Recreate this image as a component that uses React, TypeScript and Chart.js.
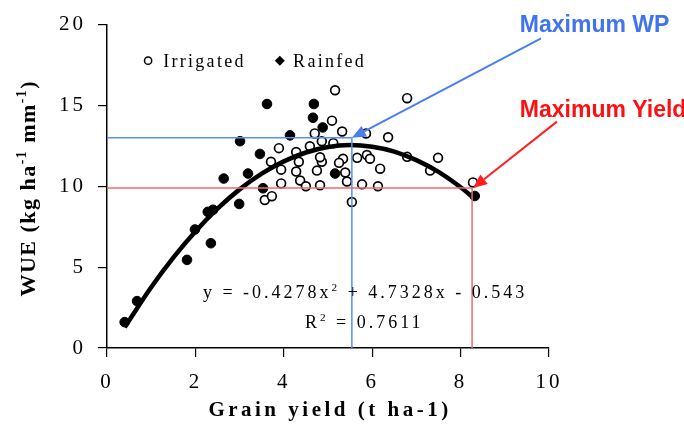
import React, { useEffect, useRef } from 'react';
import { Chart, registerables } from 'chart.js';

Chart.register(...registerables);

// ---- data ----
const irrigatedX = [5.16, 6.79, 5.09, 4.70, 5.32, 5.86, 6.36, 3.89, 4.59, 4.86, 5.12, 4.28, 3.71, 4.34, 4.86, 4.82, 5.34, 5.66, 5.88, 5.95, 6.79, 7.49, 3.94, 4.75, 5.25, 5.39, 6.18, 7.31, 4.28, 4.37, 3.94, 4.50, 4.82, 5.43, 5.77, 6.13, 3.57, 3.73, 5.54, 8.28];
const irrigatedY = [15.94, 15.45, 14.06, 13.27, 13.39, 13.27, 13.03, 12.36, 12.48, 12.79, 12.67, 12.12, 11.52, 11.52, 11.52, 11.80, 11.70, 11.76, 11.94, 11.70, 11.82, 11.76, 11.03, 10.97, 11.45, 10.85, 11.09, 10.97, 10.91, 10.36, 10.18, 10.00, 10.06, 10.30, 10.12, 10.00, 9.15, 9.39, 9.03, 10.24];

const rainfedX = [0.40, 0.68, 1.81, 2.35, 1.99, 2.28, 2.40, 2.64, 2.99, 3.01, 3.19, 3.46, 3.53, 3.62, 4.14, 4.66, 4.68, 4.88, 5.16, 8.32];
const rainfedY = [1.60, 2.90, 5.45, 6.48, 7.33, 8.42, 8.55, 10.48, 8.91, 12.79, 10.79, 12.00, 9.88, 15.09, 13.15, 14.24, 15.09, 13.64, 10.79, 9.40];

// trend line (as drawn, following y = -0.4278x^2 + 4.7328x - 0.543)
const trendX = [0.4, 1, 1.5, 2, 2.5, 3, 3.5, 4, 4.5, 5, 5.5, 6, 6.5, 7, 7.5, 8, 8.3];
const trendY = [1.28, 3.76, 5.59, 7.21, 8.62, 9.81, 10.78, 11.54, 12.09, 12.43, 12.55, 12.45, 12.15, 11.62, 10.89, 9.94, 9.27];

const xTicks = [0, 2, 4, 6, 8, 10];
const yTicks = [0, 5, 10, 15, 20];

const maxWP = { x: 5.54, y: 13.0 };
const maxYield = { x: 8.26, y: 9.9 };
const wpArrowTail = { x: 9.82, y: 19.15 };
const yieldArrowTail = { x: 10.18, y: 14.0 };

const legendLabels = ['Irrigated', 'Rainfed'];
const xTitle = 'Grain yield (t ha-1)';

type Run = { t: string; sup?: boolean };

const SERIF = "'Liberation Serif', 'Times New Roman', serif";
const SANS = "'Liberation Sans', Arial, sans-serif";

function drawRich(
  ctx: CanvasRenderingContext2D,
  runs: Run[],
  x: number,
  y: number,
  o: { size: number; bold?: boolean; family: string; ls: number; align?: 'left' | 'center'; color?: string }
) {
  ctx.save();
  (ctx as any).letterSpacing = o.ls + 'px';
  ctx.textBaseline = 'alphabetic';
  ctx.textAlign = 'left';
  ctx.fillStyle = o.color || '#000';
  const font = (s: number) => `${o.bold ? 'bold ' : ''}${s}px ${o.family}`;
  const widths = runs.map((r) => {
    ctx.font = font(r.sup ? o.size * 0.62 : o.size);
    return ctx.measureText(r.t).width;
  });
  const total = widths.reduce((a, b) => a + b, 0);
  let cx = o.align === 'center' ? x - total / 2 : x;
  runs.forEach((r, i) => {
    ctx.font = font(r.sup ? o.size * 0.62 : o.size);
    ctx.fillText(r.t, cx, r.sup ? y - o.size * 0.4 : y);
    cx += widths[i];
  });
  ctx.restore();
}

function arrow(ctx: CanvasRenderingContext2D, x1: number, y1: number, x2: number, y2: number, color: string) {
  const ang = Math.atan2(y2 - y1, x2 - x1);
  const len = 14;
  const hw = 6;
  const bx = x2 - len * Math.cos(ang);
  const by = y2 - len * Math.sin(ang);
  ctx.save();
  ctx.strokeStyle = color;
  ctx.fillStyle = color;
  ctx.lineWidth = 2;
  ctx.beginPath();
  ctx.moveTo(x1, y1);
  ctx.lineTo(bx, by);
  ctx.stroke();
  ctx.beginPath();
  ctx.moveTo(x2, y2);
  ctx.lineTo(bx + hw * Math.sin(ang), by - hw * Math.cos(ang));
  ctx.lineTo(bx - hw * Math.sin(ang), by + hw * Math.cos(ang));
  ctx.closePath();
  ctx.fill();
  ctx.restore();
}

const annotPlugin = {
  id: 'annot',
  beforeDraw(chart: any) {
    (chart.ctx as any).letterSpacing = '3px';
  },
  afterDatasetsDraw(chart: any) {
    const ctx: CanvasRenderingContext2D = chart.ctx;
    const xs = chart.scales.x;
    const ys = chart.scales.y;
    const left = chart.chartArea.left;
    const bottom = chart.chartArea.bottom;
    ctx.save();
    ctx.strokeStyle = '#5a8df5';
    ctx.lineWidth = 1.5;
    ctx.beginPath();
    ctx.moveTo(left, ys.getPixelForValue(maxWP.y));
    ctx.lineTo(xs.getPixelForValue(maxWP.x), ys.getPixelForValue(maxWP.y));
    ctx.lineTo(xs.getPixelForValue(maxWP.x), bottom);
    ctx.stroke();
    ctx.strokeStyle = '#f26a6a';
    ctx.beginPath();
    ctx.moveTo(left, ys.getPixelForValue(maxYield.y));
    ctx.lineTo(xs.getPixelForValue(maxYield.x), ys.getPixelForValue(maxYield.y));
    ctx.lineTo(xs.getPixelForValue(maxYield.x), bottom);
    ctx.stroke();
    ctx.restore();
    arrow(ctx, xs.getPixelForValue(wpArrowTail.x), ys.getPixelForValue(wpArrowTail.y), xs.getPixelForValue(maxWP.x), ys.getPixelForValue(maxWP.y), '#4a7ff0');
    arrow(ctx, xs.getPixelForValue(yieldArrowTail.x), ys.getPixelForValue(yieldArrowTail.y), xs.getPixelForValue(maxYield.x) + 1, ys.getPixelForValue(maxYield.y), '#ff1f1f');
  },
  afterDraw(chart: any) {
    const ctx: CanvasRenderingContext2D = chart.ctx;
    const xs = chart.scales.x;
    const ys = chart.scales.y;
    const ca = chart.chartArea;
    (ctx as any).letterSpacing = '0px';

    // legend
    const ly = ys.getPixelForValue(17.4);
    ctx.save();
    ctx.strokeStyle = '#000';
    ctx.fillStyle = '#fff';
    ctx.lineWidth = 1.5;
    ctx.beginPath();
    ctx.arc(xs.getPixelForValue(0.93), ly - 6, 3.6, 0, Math.PI * 2);
    ctx.fill();
    ctx.stroke();
    ctx.fillStyle = '#000';
    const dx = xs.getPixelForValue(3.91);
    ctx.beginPath();
    ctx.moveTo(dx, ly - 11);
    ctx.lineTo(dx + 5, ly - 6);
    ctx.lineTo(dx, ly - 1);
    ctx.lineTo(dx - 5, ly - 6);
    ctx.closePath();
    ctx.fill();
    ctx.restore();
    drawRich(ctx, [{ t: legendLabels[0] }], xs.getPixelForValue(1.27), ly, { size: 18, family: SERIF, ls: 2.3 });
    drawRich(ctx, [{ t: legendLabels[1] }], xs.getPixelForValue(4.21), ly, { size: 18, family: SERIF, ls: 2.3 });

    // equation
    drawRich(
      ctx,
      [{ t: 'y = -0.4278x' }, { t: '2', sup: true }, { t: ' + 4.7328x - 0.543' }],
      xs.getPixelForValue(2.17),
      ys.getPixelForValue(3.09),
      { size: 18, family: SERIF, ls: 3 }
    );
    drawRich(
      ctx,
      [{ t: 'R' }, { t: '2', sup: true }, { t: ' = 0.7611' }],
      xs.getPixelForValue(4.48),
      ys.getPixelForValue(1.21),
      { size: 18, family: SERIF, ls: 3 }
    );

    // callouts
    drawRich(ctx, [{ t: 'Maximum WP' }], xs.getPixelForValue(9.34), ys.getPixelForValue(19.52), { size: 23, bold: true, family: SANS, ls: 0, color: '#3f74ee' });
    drawRich(ctx, [{ t: 'Maximum Yield' }], xs.getPixelForValue(9.34), ys.getPixelForValue(14.3), { size: 23, bold: true, family: SANS, ls: 0, color: '#ff1010' });

    // axis titles
    drawRich(ctx, [{ t: xTitle }], (ca.left + ca.right) / 2 + 2, ca.bottom + 68, { size: 21, bold: true, family: SERIF, ls: 3.5, align: 'center' });
    ctx.save();
    ctx.translate(ca.left - 72, (ca.top + ca.bottom) / 2 + 2);
    ctx.rotate(-Math.PI / 2);
    drawRich(
      ctx,
      [{ t: 'WUE (kg ha' }, { t: '-1', sup: true }, { t: ' mm' }, { t: '-1', sup: true }, { t: ')' }],
      0,
      0,
      { size: 22, bold: true, family: SERIF, ls: 1.5, align: 'center' }
    );
    ctx.restore();
  },
};

export default function App() {
  const ref = useRef<HTMLCanvasElement | null>(null);
  useEffect(() => {
    if (!ref.current) return;
    const pts = (xs: number[], ys: number[]) => xs.map((x, i) => ({ x, y: ys[i] }));
    const chart = new Chart(ref.current, {
      type: 'scatter',
      data: {
        datasets: [
          {
            label: 'Trend',
            data: pts(trendX, trendY),
            showLine: true,
            borderColor: '#000',
            borderWidth: 4.5,
            pointRadius: 0,
            cubicInterpolationMode: 'monotone',
            fill: false,
          } as any,
          {
            label: legendLabels[1],
            data: pts(rainfedX, rainfedY),
            pointRadius: 4.8,
            pointBackgroundColor: '#000',
            pointBorderColor: '#000',
            pointBorderWidth: 1,
          },
          {
            label: legendLabels[0],
            data: pts(irrigatedX, irrigatedY),
            pointRadius: 4.4,
            pointBackgroundColor: '#fff',
            pointBorderColor: '#000',
            pointBorderWidth: 1.7,
          },
        ],
      },
      options: {
        animation: false,
        responsive: false,
        maintainAspectRatio: false,
        devicePixelRatio: 1,
        layout: { padding: { left: 0, top: 18, right: 135, bottom: 0 } },
        plugins: {
          legend: { display: false },
          tooltip: { enabled: false },
          title: { display: false },
        },
        scales: {
          x: {
            type: 'linear',
            min: 0,
            max: 10,
            afterBuildTicks: (s: any) => {
              s.ticks = xTicks.map((v) => ({ value: v }));
            },
            afterFit: (s: any) => {
              s.height = 83;
            },
            ticks: {
              font: { family: SERIF, size: 21 },
              color: '#000',
              padding: 13,
              maxRotation: 0,
              autoSkip: false,
            },
            grid: { display: true, drawOnChartArea: false, drawTicks: true, tickLength: 9, color: '#000', lineWidth: 1.2 },
            border: { display: true, color: '#000', width: 1.5 },
          },
          y: {
            type: 'linear',
            min: 0,
            max: 20,
            afterBuildTicks: (s: any) => {
              s.ticks = yTicks.map((v) => ({ value: v }));
            },
            afterFit: (s: any) => {
              s.width = 107;
            },
            ticks: {
              font: { family: SERIF, size: 21 },
              color: '#000',
              padding: 12,
              autoSkip: false,
            },
            grid: { display: true, drawOnChartArea: false, drawTicks: true, tickLength: 9, color: '#000', lineWidth: 1.2 },
            border: { display: true, color: '#000', width: 1.5 },
          },
        },
      },
      plugins: [annotPlugin],
    });
    return () => chart.destroy();
  }, []);
  return (
    <div style={{ position: 'fixed', left: 0, top: 0, width: 684, height: 431, background: '#fff' }}>
      <canvas ref={ref} width={684} height={431} style={{ display: 'block', width: 684, height: 431 }} />
    </div>
  );
}
